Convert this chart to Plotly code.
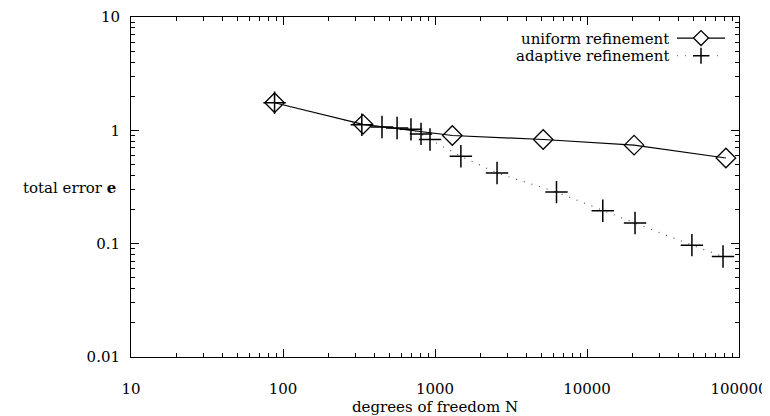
import plotly.graph_objects as go

# ---- data ----
uniform_N = [88, 336, 1300, 5150, 20400, 82000]
uniform_err = [1.75, 1.13, 0.90, 0.83, 0.74, 0.57]

adaptive_N = [88, 330, 448, 563, 695, 809, 927, 1480, 2560, 6300, 12700, 20700, 49000, 78500]
adaptive_err = [1.75, 1.12, 1.07, 1.05, 1.02, 0.93, 0.83, 0.59, 0.42, 0.285, 0.195, 0.152, 0.097, 0.077]

x_ticks = [10, 100, 1000, 10000, 100000]
x_ticktext = ["10", "100", "1000", "10000", "100000"]
y_ticks = [0.01, 0.1, 1, 10]
y_ticktext = ["0.01", "0.1", "1", "10"]

series_names = ["uniform refinement", "adaptive refinement"]

FONT = "DejaVu Serif"
FS = 15

fig = go.Figure()
fig.add_trace(go.Scatter(
    x=uniform_N, y=uniform_err, mode="lines+markers", name=series_names[0],
    line=dict(color="black", width=1.2),
    marker=dict(symbol="diamond-open", size=15, color="black", line=dict(width=1.3)),
    showlegend=False,
))
fig.add_trace(go.Scatter(
    x=adaptive_N, y=adaptive_err, mode="lines+markers", name=series_names[1],
    line=dict(color="#555555", width=1.2, dash="1px,7px"),
    marker=dict(symbol="cross-thin-open", size=16, color="black", line=dict(width=1.5, color="black")),
    showlegend=False,
))

axis_common = dict(
    type="log", showline=True, linecolor="black", linewidth=1, mirror="allticks",
    ticks="inside", ticklen=8, tickcolor="black", tickwidth=1,
    showgrid=False, zeroline=False, automargin=False,
    tickfont=dict(family=FONT, size=FS, color="black"),
    minor=dict(ticks="inside", ticklen=4, tickcolor="black", tickwidth=1, dtick="D1", showgrid=False),
)

fig.update_xaxes(**axis_common, range=[1, 5], tickvals=x_ticks, ticktext=x_ticktext,
                 ticklabelstandoff=18,
                 title=dict(text="degrees of freedom N", font=dict(family=FONT, size=FS, color="black"), standoff=6))
fig.update_yaxes(**axis_common, range=[-2, 1], tickvals=y_ticks, ticktext=y_ticktext,
                 ticklabelstandoff=7)

# y-axis label (horizontal)
fig.add_annotation(xref="paper", yref="paper", x=-0.021, y=0.496, xanchor="right", yanchor="middle",
                   text="total error <b>e</b>", showarrow=False,
                   font=dict(family=FONT, size=FS, color="black"))

# custom legend: text left, sample right (gnuplot style)
leg_rows = [0.938, 0.886]
for i, name in enumerate(series_names):
    fig.add_annotation(xref="paper", yref="paper", x=0.886, y=leg_rows[i], xanchor="right", yanchor="middle",
                       text=name, showarrow=False, height=15, borderpad=0,
                       font=dict(family=FONT, size=FS, color="black"))
fig.add_shape(type="line", xref="paper", yref="paper", x0=0.898, x1=0.977, y0=leg_rows[0], y1=leg_rows[0],
              line=dict(color="black", width=1.2))
fig.add_shape(type="line", xref="paper", yref="paper", x0=0.898, x1=0.977, y0=leg_rows[1], y1=leg_rows[1],
              line=dict(color="#555555", width=1.2, dash="1px,7px"))
fig.add_shape(type="path", xref="paper", yref="paper", xsizemode="pixel", ysizemode="pixel",
              xanchor=0.9375, yanchor=leg_rows[0],
              path="M -7.5 0 L 0 7.5 L 7.5 0 L 0 -7.5 Z", fillcolor="white", line=dict(color="black", width=1.3))
fig.add_shape(type="path", xref="paper", yref="paper", xsizemode="pixel", ysizemode="pixel",
              xanchor=0.9375, yanchor=leg_rows[1],
              path="M -8 0 L 8 0 M 0 -8 L 0 8", line=dict(color="black", width=1.5))

# page body has an 8px default margin, so size the figure to fit the 770x416 window
fig.update_layout(
    width=762, height=408,
    margin=dict(l=123, r=31, t=9, b=59),
    paper_bgcolor="white", plot_bgcolor="white",
    font=dict(family=FONT, size=FS, color="black"),
)

fig.write_html("out.html")
